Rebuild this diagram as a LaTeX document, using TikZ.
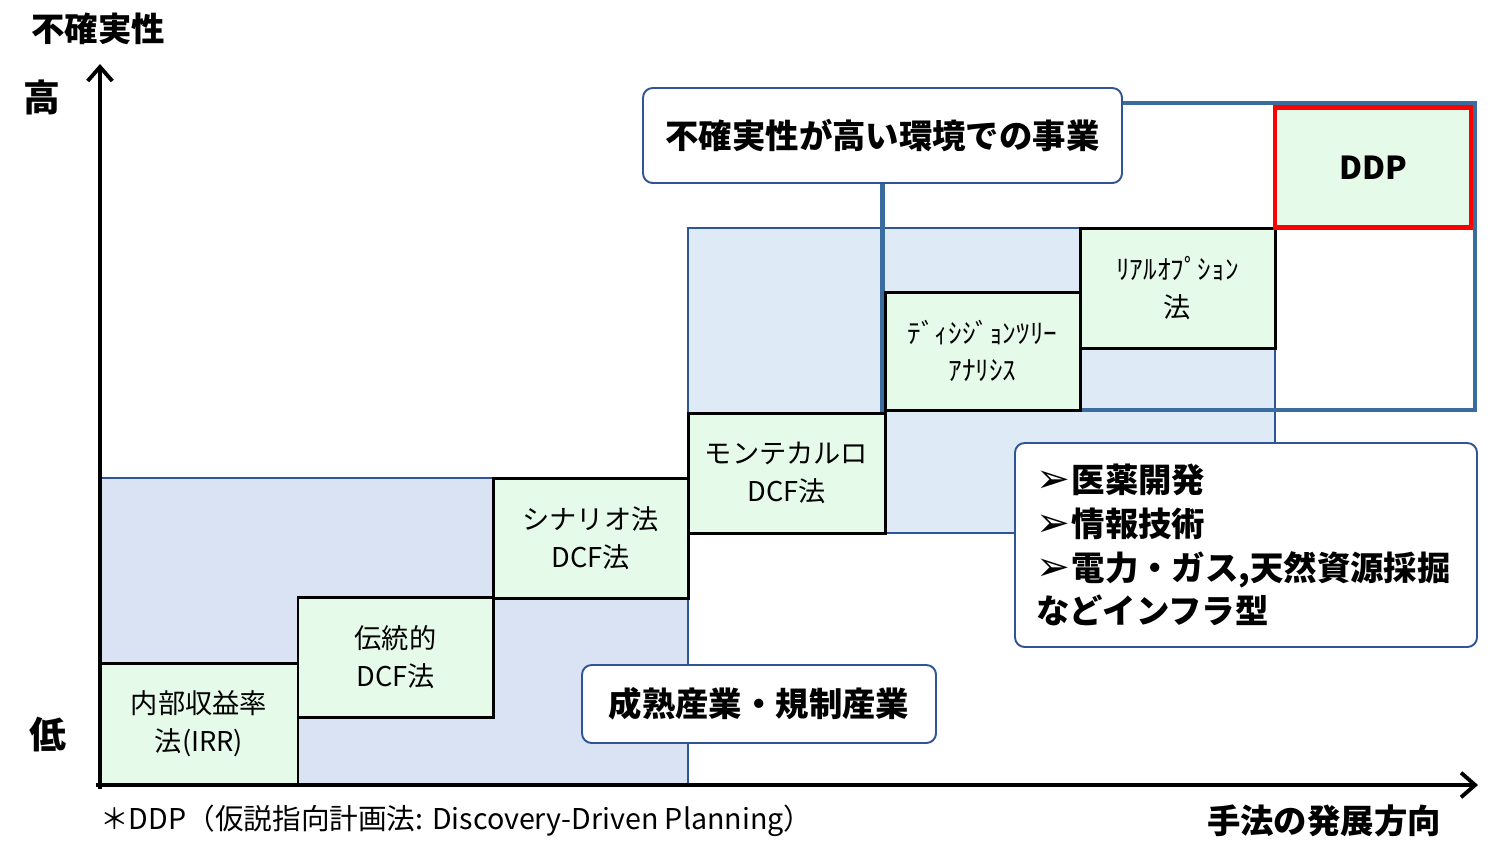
\documentclass[tikz,border=0pt]{standalone}
\usepackage{fontspec}
\setmainfont{Noto Sans CJK JP}
\newfontfamily\symfont{DejaVu Sans}
\usetikzlibrary{arrows.meta}
\definecolor{regA}{HTML}{DAE3F3}
\definecolor{regB}{HTML}{DEEAF6}
\definecolor{regline}{HTML}{2F5597}
\definecolor{greenfill}{HTML}{E6FAEA}
\definecolor{framec}{HTML}{3A6CA0}
\definecolor{ddpred}{HTML}{FF0000}
\newcommand{\bul}{{\symfont\fontsize{23}{25}\selectfont ➢}}
\tikzset{
  boxsize/.style 2 args={minimum width=#1*0.02cm, minimum height=#2*0.02cm},
  region/.style={draw=regline, line width=0.8pt},
  method/.style={draw=black, line width=1.7pt, fill=greenfill, inner sep=0pt, align=center,
    font=\fontsize{15.5}{21.5}\selectfont},
  halfkana/.style={method, font=\fontsize{15.5}{21.5}\selectfont},
  callout/.style={draw=regline, line width=1.1pt, rounded corners=5.5pt, fill=white, inner sep=0pt,
    font=\bfseries\fontsize{19}{25}\selectfont},
  bigframe/.style={draw=framec, line width=2.4pt},
  axis/.style={line width=2.8pt, -{Straight Barb[length=8pt, width=14pt, line width=2.2pt]}},
  axlabel/.style={font=\bfseries\fontsize{19}{22}\selectfont, inner sep=0pt},
}
\begin{document}
\begin{tikzpicture}[x=0.02cm, y=-0.02cm]
\useasboundingbox (0,0) rectangle (1500,863);
% background regions
\fill[regA] (100,478) rectangle (688,785);
\draw[region] (100,478) rectangle (688,785);
\fill[regB] (688,228) rectangle (1275,533);
\draw[region] (688,228) rectangle (1275,533);
% callout: uncertain business
\node[callout, boxsize={479}{95}] (c1) at (882.5,135.5) {不確実性が高い環境での事業};
% big frame attached to callout
\coordinate (fbr) at (1475,410);
\coordinate (ftr) at (1475,103);
\draw[bigframe] (c1.south) |- (fbr) -- (ftr) -- (c1.east |- ftr);
% method boxes
\node[method, boxsize={198}{122}] (irr) at (199,724) {内部収益率\\法(IRR)};
\node[method, boxsize={195}{120}] (trad) at (395.5,657) {伝統的\\DCF法};
\node[method, boxsize={195}{120}] (scen) at (590.5,538) {シナリオ法\\DCF法};
\node[method, boxsize={197}{120}] (mc) at (786.5,473) {モンテカルロ\\DCF法};
\node[halfkana, boxsize={195}{118}] (dt) at (982.5,351) {ﾃﾞｨｼｼﾞｮﾝﾂﾘｰ\\ｱﾅﾘｼｽ};
\node[halfkana, boxsize={195}{120}] (ro) at (1177.5,288) {ﾘｱﾙｵﾌﾟｼｮﾝ\\法};
\node[method, draw=ddpred, line width=2.6pt, boxsize={196}{120}, font=\bfseries\fontsize{18}{22}\selectfont] (ddp) at (1373,167.5) {DDP};
% callouts
\node[callout, boxsize={354}{78}] (c2) at (759,704) {成熟産業・規制産業};
\node[callout, boxsize={462}{204}, inner xsep=0.42cm, text width=8.4cm, align=left] (c3) at (1246,545)
  {\bul\hspace{1pt}医薬開発\\\bul\hspace{1pt}情報技術\\\bul\hspace{1pt}電力・ガス,天然資源採掘\\などインフラ型};
% axes
\coordinate (origin) at (100,785);
\coordinate (ytop) at (100,64);
\coordinate (xend) at (1478,785);
\draw[axis] (100,789) -- (ytop);
\draw[axis] (96,785) -- (xend);
% axis labels
\node[axlabel] (ylab) at (98,29) {不確実性};
\node[axlabel, font=\bfseries\fontsize{21}{22}\selectfont] (high) at (42,97) {高};
\node[axlabel, font=\bfseries\fontsize{21}{22}\selectfont] (low) at (48,735) {低};
\node[axlabel] (xlab) at (1324,821) {手法の発展方向};
\node[anchor=west, inner sep=0pt, font=\fontsize{16.3}{18}\selectfont] (note) at (100,821) {＊DDP（仮説指向計画法: Discovery-Driven Planning）};
\end{tikzpicture}
\end{document}
